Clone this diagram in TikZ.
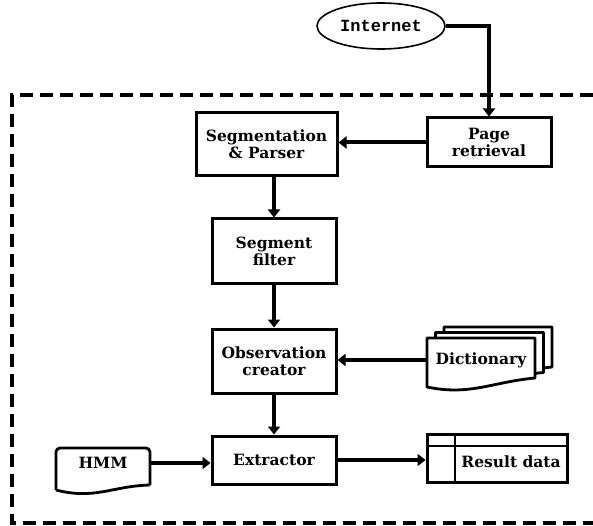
\documentclass[tikz,border=0pt]{standalone}
\usepackage{fontspec}
\setmainfont{DejaVu Serif}
\newfontfamily\netfont{Liberation Mono}
\usetikzlibrary{shapes.geometric,arrows.meta}
\begin{document}
\begin{tikzpicture}[x=1pt,y=-1pt]
            \tikzstyle{every node}+=[inner sep=0pt,align=center,font=\bfseries\fontsize{15.5}{17}\selectfont]
            \tikzstyle{block}=[draw,line width=3pt,rectangle]
            \tikzstyle{edge}=[line width=2.8pt,line join=round]
            \tikzstyle{flow}=[line width=4pt,-{Triangle[length=8pt,width=12pt]}]
            \useasboundingbox (0,0) rectangle (593,526);
            \draw [line width=3.2pt,dash pattern=on 13pt off 7pt] (593,95) -- (12,95) -- (12,523) -- (593,523);
            \node [ellipse,draw,line width=1.6pt,minimum width=128pt,minimum height=46pt,font=\netfont\bfseries\fontsize{17}{18}\selectfont] (net) at (381,26) {Internet};
            \node [block,minimum width=124pt,minimum height=49pt] (page) at (489,142.5) {Page\\retrieval};
            \node [block,minimum width=141pt,minimum height=63pt] (seg) at (266.5,144.5) {Segmentation\\\& Parser};
            \node [block,minimum width=124pt,minimum height=64pt] (filter) at (274,251) {Segment\\filter};
            \node [block,minimum width=124pt,minimum height=64pt] (obs) at (274,361) {Observation\\creator};
            \node [block,minimum width=124pt,minimum height=48pt] (extr) at (274,460) {Extractor};
            \foreach \dx/\dy in {17/-11,8.5/-5.5,0/0}
                \filldraw [edge,fill=white,shift={(\dx,\dy)}] (427,338) -- (535,338) -- (535,378) .. controls (492,382) and (470,396) .. (427,387) -- cycle;
            \node [minimum width=108pt,minimum height=44pt] (dict) at (481,360) {Dictionary};
            \draw [edge,rounded corners=4pt] (150,485) -- (150,448) -- (56,448) -- (56,490);
            \draw [edge] (150,485) .. controls (112,486) and (95,500) .. (56,490);
            \node [minimum width=94pt,minimum height=30pt] (hmm) at (103,463) {HMM};
            \node [block,minimum width=140pt,minimum height=48pt] (res) at (497,458) {};
            \draw [edge] (455,434) -- (455,482);
            \draw [edge] (427,446) -- (567,446);
            \node (restext) at (511,462) {Result data};
            \draw [flow] (net.east) -| (page.north);
            \draw [flow] (page.west) -- (page.west -| seg.east);
            \draw [flow] (seg.south -| filter.north) -- (filter.north);
            \draw [flow] (filter.south) -- (obs.north);
            \draw [flow] (dict.west) -- (dict.west -| obs.east);
            \draw [flow] (obs.south) -- (extr.north);
            \draw [flow] (hmm.east) -- (hmm.east -| extr.west);
            \draw [flow] (extr.east) -- (extr.east -| res.west);
        \end{tikzpicture}
\end{document}
